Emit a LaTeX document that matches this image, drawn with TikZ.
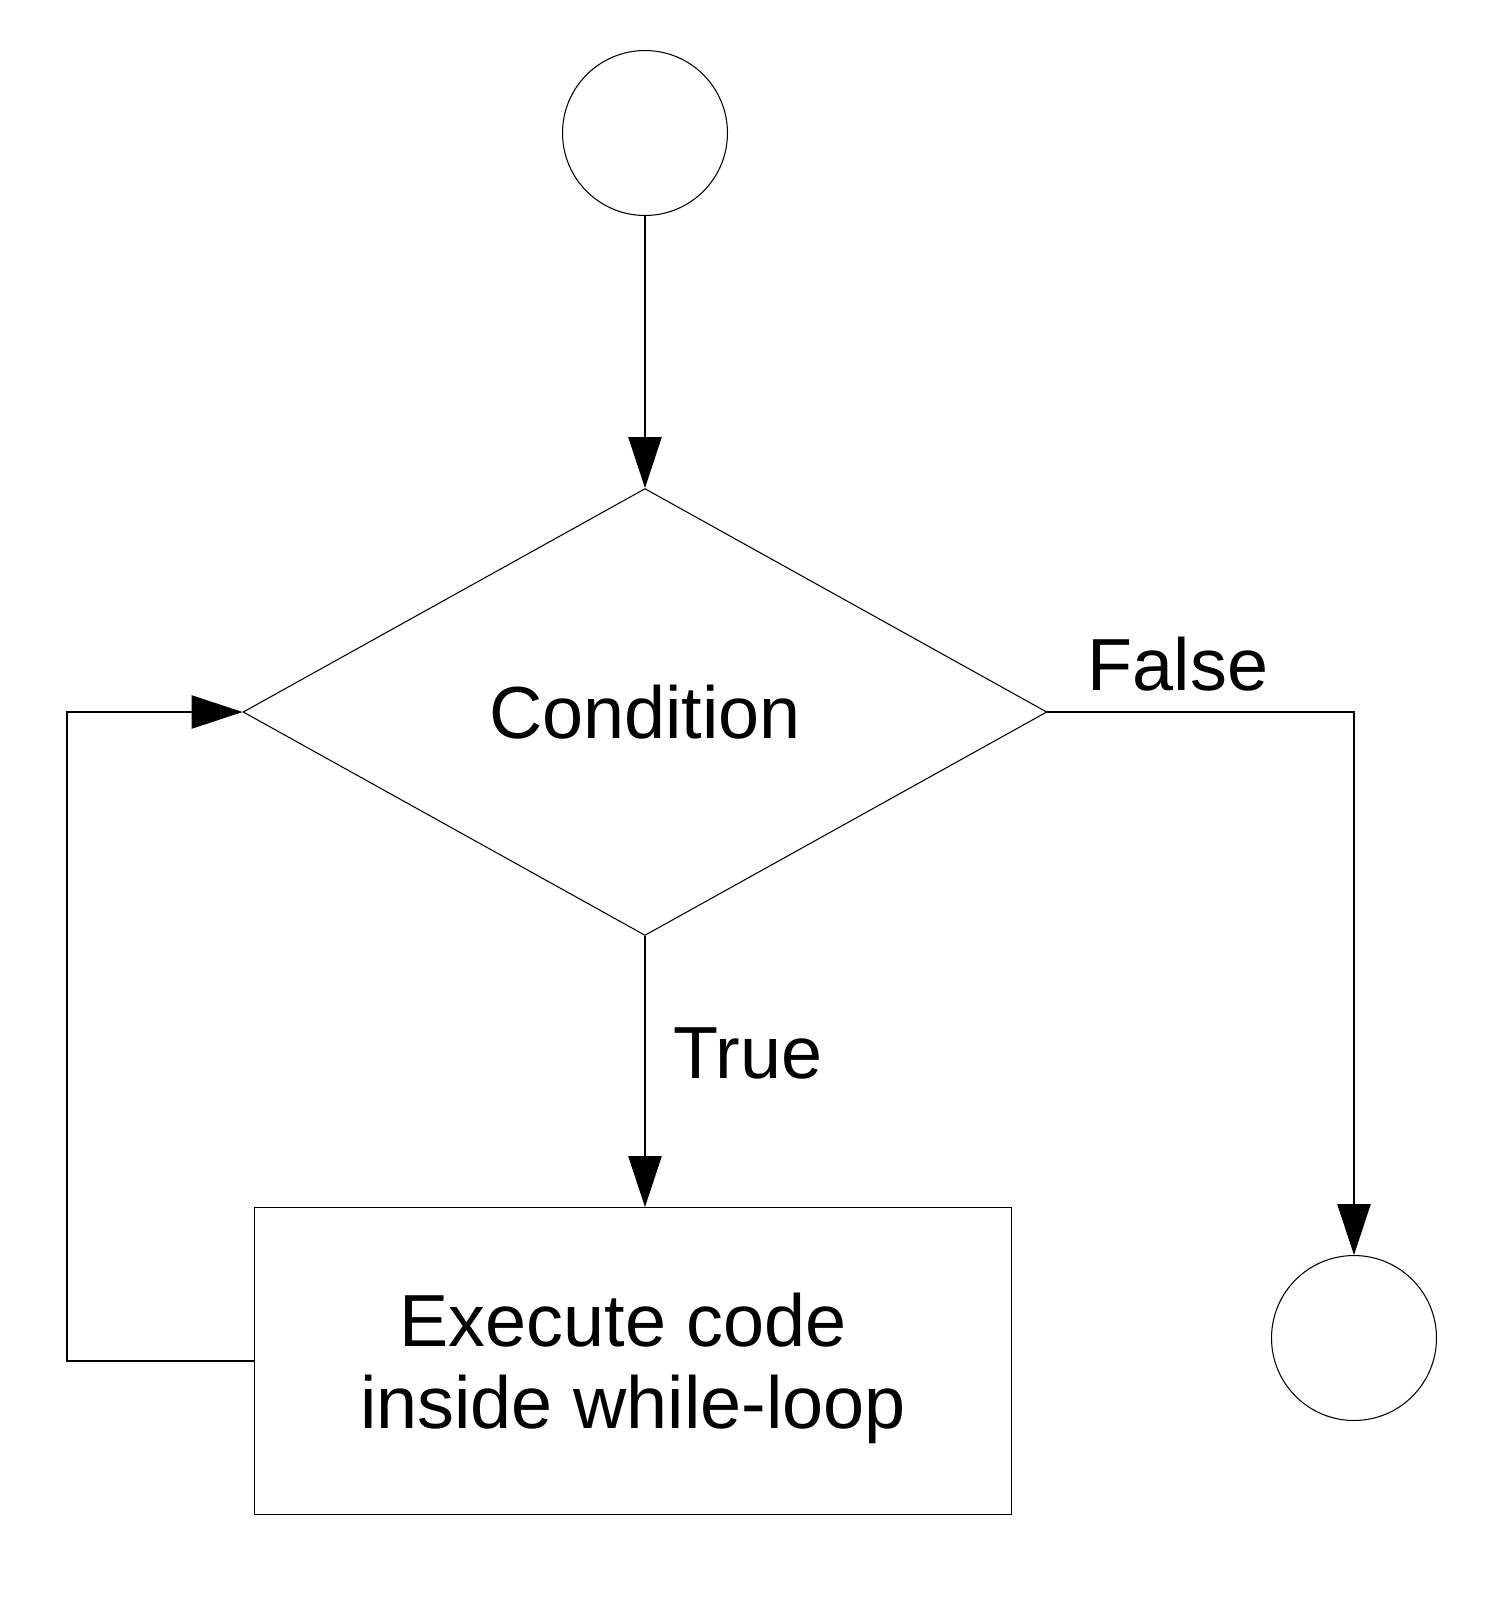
\documentclass[tikz,border=0pt]{standalone}
\usepackage{fontspec}
\setmainfont{Liberation Sans}
\usetikzlibrary{shapes.geometric,arrows.meta}
\begin{document}
\begin{tikzpicture}[x=0.02cm, y=-0.02cm, line width=0.6pt,
    font=\fontsize{42}{47}\selectfont,
    terminal/.style={draw, circle, minimum size=3.3cm, inner sep=0pt},
    decision/.style={draw, diamond, aspect=1.8, minimum width=16.08cm, minimum height=8.94cm, inner sep=0pt},
    process/.style={draw, rectangle, minimum width=15.13cm, minimum height=6.14cm, align=center},
    flow/.style={-{Triangle[length=29pt,width=19pt]}}]
    \useasboundingbox (0,0) rectangle (1487,1614);
    \node[terminal] (start) at (645,133) {};
    \node[decision] (cond) at (645,712) {Condition};
    \node[process] (body) at (633,1361) {\rule{0pt}{39pt}Execute code\rule{11pt}{0pt}\\inside while-loop};
    \node[terminal] (stop) at (1354,1338) {};
    \coordinate (back) at (67,1361);
    \draw[flow] (start) -- (cond);
    \draw[flow] (cond.south) -- (cond.south |- body.north);
    \draw[flow] (cond.east) -| (stop);
    \draw[flow] (body.west) -- (back) |- (cond.west);
    \node (true) at (748,1053) {True};
    \node (false) at (1178,664) {False};
\end{tikzpicture}
\end{document}
